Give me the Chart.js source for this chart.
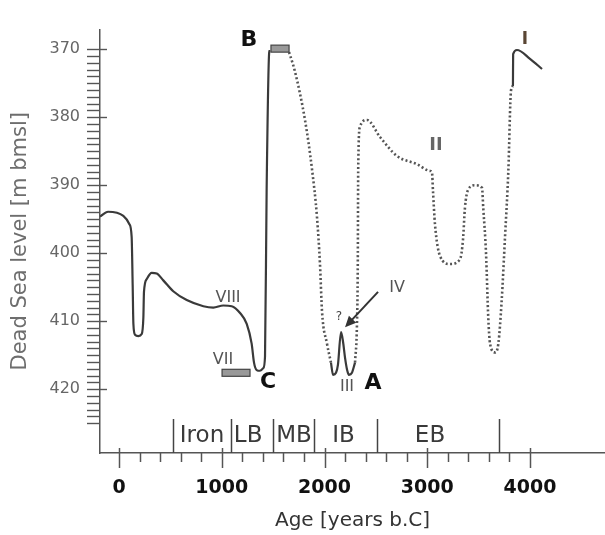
<!DOCTYPE html>
<html><head><meta charset="utf-8">
<script src="https://cdn.jsdelivr.net/npm/chart.js@4.4.0/dist/chart.umd.min.js"></script>
<style>html,body{margin:0;padding:0;background:#fff;}#wrap{width:605px;height:535px;}</style>
</head><body><div id="wrap"><canvas id="c" width="605" height="535"></canvas></div>
<script>
// ---- data (age in years b.C, level in m below msl) ----
const solid1Age   = [-185,-107,42,100,123,133,140,156,188,221,237,243,270,318,367,431,528,659,821,918,1015,1097,1178,1243,1291,1314,1340,1372,1405,1421,1437,1462,1470];
const solid1Level = [394.6,393.9,394.5,395.7,397.6,404.7,410.4,412.0,412.2,411.9,409.5,405.7,403.8,402.9,403.0,404.0,405.6,406.9,407.8,408.0,407.7,407.8,408.8,410.4,413.3,416.1,417.2,417.3,416.9,415.2,390.4,370.4,370.1];
const dotted1Age   = [1655,1713,1810,1878,1927,1956,1976,2024,2063];
const dotted1Level = [370.4,373.3,380.4,387.6,394.7,401.6,408.6,413.3,416.1];
const solid2Age   = [2063,2083,2112,2131,2161,2180,2200,2219,2238,2267,2297];
const solid2Level = [416.1,417.9,417.6,416.4,411.6,413.0,415.4,417.1,417.9,417.6,416.1];
const dotted2Age   = [2297,2316,2324,2328,2345,2414,2540,2706,2900,3027,3046,3056,3075,3124,3221,3319,3348,3367,3397,3465,3533,3545,3572,3594,3611,3659,3692,3724,3757,3789,3815,3834];
const dotted2Level = [416.1,410.4,401.6,387.6,381.4,380.4,382.9,385.7,386.9,387.9,388.1,390.9,395.7,400.4,401.6,400.9,398.0,393.3,390.7,390.0,390.4,393.3,400.0,409.5,413.3,414.6,413.3,407.1,397.6,388.0,376.1,375.4];
const solid3Age   = [3834,3836,3873,4000,4117];
const solid3Level = [375.4,370.7,370.1,371.4,372.9];

const barStart = [1003,1479];
const barEnd   = [1275,1655];
const barLevel = [417.6,369.9];

const periodBounds = [523,1091,1503,1893,2507,3701];
const periodNames  = ['Iron','LB','MB','IB','EB'];
const periodLabelAge = [808,1257,1703,2185,3027];

const yTickLabels = [370,380,390,400,410,420];
const xTickLabels = [0,1000,2000,3000,4000];

const markText  = ['B','C','A','III','?','IV','II','VIII','VII','I'];
const markAge   = [1265,1450,2472,2219,2141,2706,3085,1061,1012,3951];
const markLevel = [368.6,419.0,419.1,419.6,409.4,405.1,384.1,406.6,415.7,368.6];

const arrowFrom = [2521,405.7];
const arrowTo   = [2200,410.9];

const pts = (a,b)=>a.map((v,i)=>({x:v,y:b[i]}));

const overlay = {
  id:'overlay',
  afterDraw(chart){
    const ctx=chart.ctx, xs=chart.scales.x, ys=chart.scales.y;
    const ax=chart.chartArea.left, ay=chart.chartArea.bottom;
    ctx.save();
    // y ruler
    ctx.strokeStyle='#555'; ctx.lineWidth=1.4;
    for(let v=370; v<=425; v++){
      const p=Math.round(ys.getPixelForValue(v))+0.5;
      ctx.beginPath(); ctx.moveTo(ax-13,p); ctx.lineTo(v%10===0?ax+7:ax,p); ctx.stroke();
    }
    // x ticks
    ctx.lineWidth=1.5;
    for(let v=0; v<=4000; v+=200){
      const p=Math.round(xs.getPixelForValue(v))+0.5;
      const major=v%1000===0;
      ctx.beginPath(); ctx.moveTo(p,major?ay-5:ay); ctx.lineTo(p,major?ay+15:ay+9); ctx.stroke();
    }
    // period boundaries
    ctx.strokeStyle='#444'; ctx.lineWidth=1.5;
    periodBounds.forEach(b=>{
      const p=Math.round(xs.getPixelForValue(b))+0.5;
      ctx.beginPath(); ctx.moveTo(p,ys.getPixelForValue(424.4)); ctx.lineTo(p,ay); ctx.stroke();
    });
    ctx.fillStyle='#3a3a3a'; ctx.font='23px "DejaVu Sans"'; ctx.textAlign='center'; ctx.textBaseline='middle';
    periodNames.forEach((n,i)=>ctx.fillText(n,xs.getPixelForValue(periodLabelAge[i]),ys.getPixelForValue(426.9)));
    // bars
    barStart.forEach((s,i)=>{
      const x1=xs.getPixelForValue(s), x2=xs.getPixelForValue(barEnd[i]), y=ys.getPixelForValue(barLevel[i]);
      ctx.fillStyle='#999'; ctx.strokeStyle='#444'; ctx.lineWidth=1.2;
      ctx.fillRect(x1,y-3.5,x2-x1,7); ctx.strokeRect(x1,y-3.5,x2-x1,7);
    });
    // labels
    markText.forEach((t,i)=>{
      const x=xs.getPixelForValue(markAge[i]), y=ys.getPixelForValue(markLevel[i]);
      if(t==='A'||t==='B'||t==='C'){ctx.font='bold 22px "DejaVu Sans"'; ctx.fillStyle='#111';}
      else if(t==='?'){ctx.font='12px "DejaVu Sans"'; ctx.fillStyle='#444';}
      else if(t==='II'){ctx.font='bold 18px "DejaVu Sans"'; ctx.fillStyle='#666';}
      else if(t==='I'){ctx.font='bold 17px "DejaVu Sans"'; ctx.fillStyle='#5a4634';}
      else {ctx.font='16px "DejaVu Sans"'; ctx.fillStyle='#555';}
      ctx.fillText(t,x,y);
    });
    // arrow
    const fx=xs.getPixelForValue(arrowFrom[0]), fy=ys.getPixelForValue(arrowFrom[1]);
    const tx=xs.getPixelForValue(arrowTo[0]), ty=ys.getPixelForValue(arrowTo[1]);
    const ang=Math.atan2(ty-fy,tx-fx);
    ctx.strokeStyle='#333'; ctx.fillStyle='#333'; ctx.lineWidth=2;
    ctx.beginPath(); ctx.moveTo(fx,fy); ctx.lineTo(tx-8*Math.cos(ang),ty-8*Math.sin(ang)); ctx.stroke();
    ctx.beginPath(); ctx.moveTo(tx,ty);
    ctx.lineTo(tx-11*Math.cos(ang)+5*Math.sin(ang),ty-11*Math.sin(ang)-5*Math.cos(ang));
    ctx.lineTo(tx-11*Math.cos(ang)-5*Math.sin(ang),ty-11*Math.sin(ang)+5*Math.cos(ang));
    ctx.closePath(); ctx.fill();
    ctx.restore();
  }
};

const solidStyle  = {borderColor:'#3a3a3a', borderWidth:2.2, pointRadius:0, fill:false, cubicInterpolationMode:'monotone'};
const dottedStyle = {borderColor:'#555', borderWidth:2.6, borderDash:[2,2.4], pointRadius:0, fill:false, cubicInterpolationMode:'monotone'};

new Chart(document.getElementById('c'),{
  type:'line',
  data:{datasets:[
    {data:pts(solid1Age,solid1Level),...solidStyle},
    {data:pts(dotted1Age,dotted1Level),...dottedStyle},
    {data:pts(solid2Age,solid2Level),...solidStyle},
    {data:pts(dotted2Age,dotted2Level),...dottedStyle},
    {data:pts(solid3Age,solid3Level),...solidStyle}
  ]},
  options:{
    responsive:false, animation:false, devicePixelRatio:1,
    layout:{padding:{top:17,right:0,left:0,bottom:0}},
    plugins:{legend:{display:false},tooltip:{enabled:false}},
    scales:{
      x:{type:'linear', min:-185, max:4730,
        afterBuildTicks:s=>{s.ticks=xTickLabels.map(v=>({value:v}));},
        afterFit:s=>{s.height=82;},
        grid:{drawOnChartArea:false,drawTicks:false},
        border:{display:true,color:'#555',width:1.5},
        ticks:{padding:24,color:'#111',font:{family:'DejaVu Sans',size:19,weight:'bold'},maxRotation:0,autoSkip:false,callback:v=>String(v)},
        title:{display:true,text:'Age [years b.C]',color:'#333',font:{family:'DejaVu Sans',size:20},padding:{top:0,bottom:2}}
      },
      y:{type:'linear', reverse:true, min:367.1, max:429.4,
        afterBuildTicks:s=>{s.ticks=yTickLabels.map(v=>({value:v}));},
        afterFit:s=>{s.width=100;},
        grid:{drawOnChartArea:false,drawTicks:false},
        border:{display:true,color:'#555',width:1.5},
        ticks:{padding:20,color:'#666',font:{family:'DejaVu Sans',size:16},autoSkip:false},
        title:{display:true,text:'Dead Sea level [m bmsl]',color:'#6e6e6e',font:{family:'DejaVu Sans',size:21},padding:{top:8,bottom:0}}
      }
    }
  },
  plugins:[overlay]
});
</script></body></html>
